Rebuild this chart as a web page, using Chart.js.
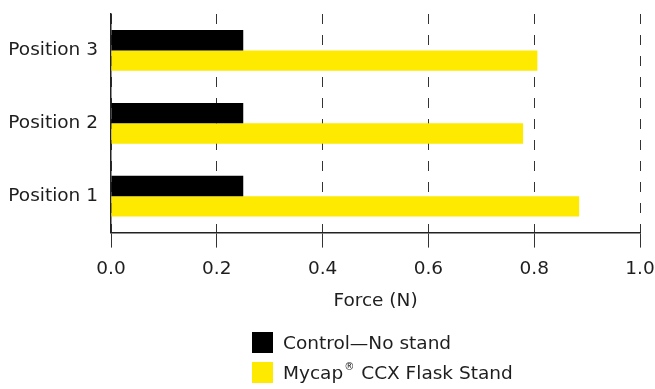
<!DOCTYPE html>
<html>
<head>
<meta charset="utf-8">
<script src="https://cdn.jsdelivr.net/npm/chart.js@4.4.0/dist/chart.umd.min.js"></script>
<style>
  body { margin: 0; background: #fff; }
  #wrap { position: relative; width: 655px; height: 389px; }
  #legend { position: absolute; left: 252px; top: 332px; font-family: 'DejaVu Sans', sans-serif; font-size: 18.5px; color: #1e1e1e; }
  .item { display: flex; align-items: center; height: 21px; margin-bottom: 9px; white-space: pre; }
  .box { width: 21px; height: 21px; margin-right: 10px; }
  .reg { font-size: 0.55em; position: relative; top: -0.6em; margin: 0 1px; }
</style>
</head>
<body>
<div id="wrap">
  <canvas id="myChart" width="655" height="389"></canvas>
  <div id="legend"></div>
</div>
<script>
const positions = ['Position 3', 'Position 2', 'Position 1'];
const controlForce = [0.25, 0.25, 0.25];
const standForce = [0.806, 0.779, 0.885];
const xTicks = [0.0, 0.2, 0.4, 0.6, 0.8, 1.0];

const seriesNames = ['Control\u2014No stand', 'Mycap\u00AE CCX Flask Stand'];
const seriesColors = ['#000000', '#FDEA00'];

const font = { family: 'DejaVu Sans', size: 18.5 };

let ctx = document.getElementById('myChart').getContext('2d');
let myChart = new Chart(ctx, {
    type: 'bar',
    data: {
        labels: positions,
        datasets: [{
            label: seriesNames[0],
            data: controlForce,
            backgroundColor: seriesColors[0],
        }, {
            label: seriesNames[1],
            data: standForce,
            backgroundColor: seriesColors[1],
        }]
    },
    options: {
        indexAxis: 'y',
        responsive: false,
        animation: false,
        categoryPercentage: 0.56,
        barPercentage: 1,
        layout: { padding: { top: 14, right: 0, bottom: 69, left: 0 } },
        plugins: { legend: { display: false }, tooltip: { enabled: false } },
        scales: {
            x: {
                min: 0,
                max: 1,
                afterBuildTicks: axis => { axis.ticks = xTicks.map(v => ({ value: v })); },
                afterFit: axis => { axis.paddingRight = 15; axis.paddingLeft = 0; },
                ticks: {
                    color: '#1e1e1e',
                    font: font,
                    padding: 10,
                    callback: v => v.toFixed(1)
                },
                grid: { color: '#333', lineWidth: 1, tickLength: 15, tickBorderDash: [] },
                border: { display: true, color: '#222', width: 1.5, dash: [10, 11] },
                title: {
                    display: true,
                    text: 'Force (N)',
                    color: '#1e1e1e',
                    font: font,
                    padding: { top: 0, bottom: 8 }
                }
            },
            y: {
                afterFit: axis => { axis.width = 111; axis.paddingTop = 0; axis.paddingBottom = 0; },
                ticks: {
                    color: '#1e1e1e',
                    font: font,
                    padding: 13
                },
                grid: { display: false, drawTicks: false },
                border: { display: true, color: '#222', width: 1.5 }
            }
        }
    }
});

// legend stacked under the chart, built from the datasets
let legendHtml = myChart.data.datasets.map(ds => {
    let text = ds.label.replace('\u00AE', '<span class="reg">\u00AE</span>');
    return `<div class="item"><span class="box" style="background:${ds.backgroundColor}"></span>${text}</div>`;
}).join('');
document.getElementById('legend').insertAdjacentHTML('afterbegin', legendHtml);
</script>
</body>
</html>
